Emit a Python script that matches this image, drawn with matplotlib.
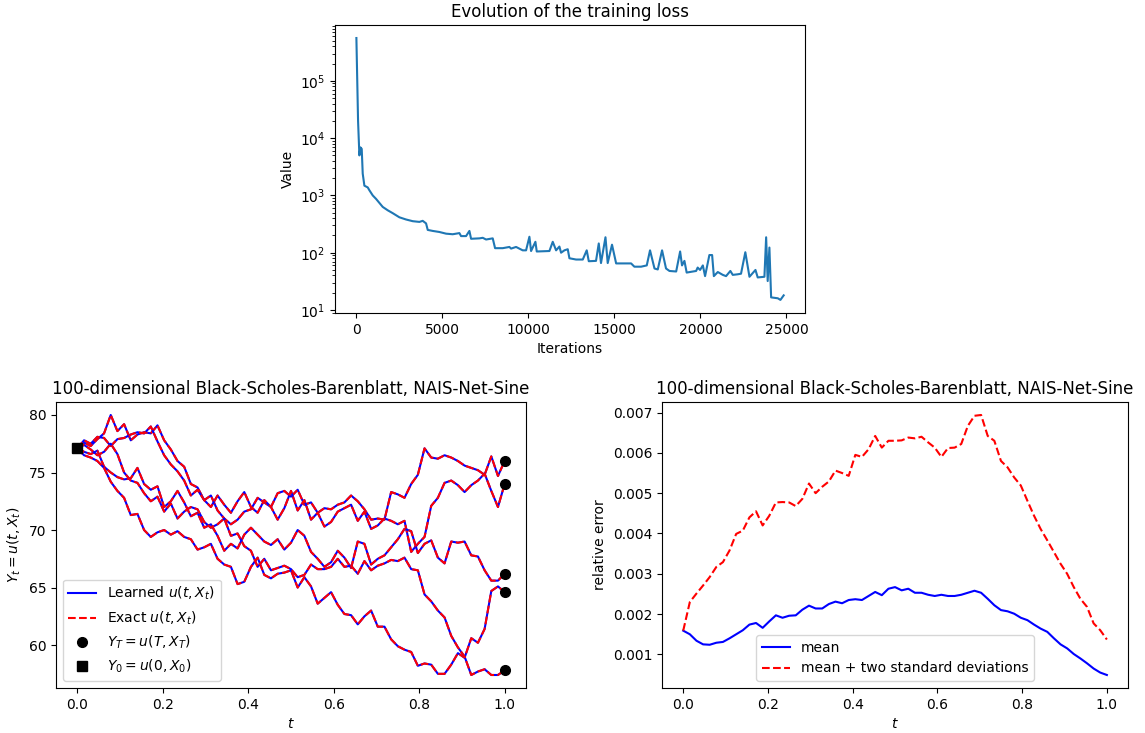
import numpy as np
import matplotlib
matplotlib.use("Agg")
import matplotlib.pyplot as plt

# ---- training loss (iteration, value) ----
loss_iter = [0, 97, 174, 232, 310, 368, 465, 659, 756, 950, 1143, 1337, 1531, 1822,
             2112, 2500, 2887, 3275, 3663, 3856, 4050, 4147, 4438, 4825, 5213, 5600,
             5988, 6085, 6376, 6570, 6667, 7151, 7345, 7539, 7926, 8062, 8508, 8895,
             8992, 9283, 9670, 9864, 10058, 10155, 10407, 10485, 11221, 11415, 11609,
             11802, 11899, 12093, 12287, 12384, 12770, 13160, 13390, 13510, 13930,
             14090, 14220, 14480, 14610, 14860, 15100, 15970, 16160, 16550, 16880,
             17070, 17330, 17520, 17770, 18000, 18200, 18590, 18820, 18930, 19070,
             19200, 19750, 19840, 19980, 20140, 20270, 20520, 20680, 20780, 21010,
             21300, 21490, 21740, 21880, 22170, 22360, 22610, 22850, 23200, 23330,
             23720, 23820, 23910, 24010, 24110, 24500, 24650, 24840]
loss_val = [5.6e5, 2.0e4, 5000, 6900, 6500, 2400, 1480, 1380, 1230, 1000, 870, 740, 630, 550,
            490, 415, 380, 355, 345, 360, 325, 250, 240, 230, 215, 210,
            220, 195, 195, 240, 175, 178, 182, 170, 178, 120, 120, 126,
            118, 126, 110, 110, 190, 107, 155, 105, 107, 155, 110,
            128, 100, 110, 115, 80, 76, 76, 110, 71, 72,
            145, 66, 186, 66, 138, 65, 65, 57, 57, 60,
            110, 53, 51, 110, 53, 48, 47, 105, 60, 72,
            45, 48, 55, 50, 60, 39, 91, 91, 39, 46,
            41, 39, 48, 41, 42, 43, 102, 38, 50, 37,
            38, 186, 32, 123, 16.6, 16, 15, 18]

# ---- BSB sample paths (5 paths, 65 time points) ----
path_a = [77.1, 77.6, 77.3, 77.9, 78.4, 80.0, 78.6, 79.2, 77.8, 78.3,
          78.5, 78.4, 79.1, 77.8, 77.0, 76.0, 75.5, 74.0, 73.7, 72.6,
          73.0, 71.7, 71.0, 70.5, 70.9, 71.6, 71.8, 72.8, 72.4, 72.0,
          73.2, 73.4, 72.9, 73.5, 72.2, 72.4, 71.5, 71.9, 71.8, 72.2,
          72.4, 73.0, 72.5, 71.8, 70.9, 71.0, 70.9, 73.3, 73.1, 72.8,
          74.0, 74.8, 77.1, 76.3, 76.2, 76.5, 76.3, 76.0, 75.6, 75.4,
          75.2, 74.8, 76.4, 74.7, 76.0]
path_b = [77.1, 77.8, 77.5, 78.1, 78.0, 77.3, 77.9, 78.0, 78.3, 78.5,
          78.4, 79.0, 77.7, 76.5, 75.7, 75.1, 74.3, 73.0, 73.5, 72.6,
          72.0, 73.0, 72.2, 71.5, 72.5, 73.3, 72.0, 71.5, 72.6, 72.0,
          70.9, 71.9, 73.4, 71.7, 72.6, 70.9, 71.5, 70.3, 70.7, 71.6,
          71.9, 72.2, 70.8, 71.6, 70.1, 70.4, 71.0, 70.8, 70.5, 70.8,
          68.1, 68.8, 69.4, 72.1, 72.8, 74.1, 74.3, 73.9, 73.3, 73.9,
          74.3, 74.9, 73.4, 72.0, 74.0]
path_c = [77.1, 76.8, 76.6, 76.9, 75.5, 75.0, 74.6, 74.4, 74.5, 75.4,
          74.0, 73.5, 73.8, 72.0, 72.5, 73.4, 72.4, 71.2, 71.5, 70.2,
          70.5, 69.5, 68.2, 68.8, 68.4, 69.6, 70.2, 69.6, 69.0, 68.7,
          69.2, 68.3, 68.9, 70.0, 69.5, 68.1, 67.5, 66.8, 67.2, 68.2,
          67.6, 66.7, 69.0, 68.8, 67.0, 67.5, 67.8, 68.5, 69.2, 70.1,
          69.9, 68.0, 68.8, 69.1, 67.6, 67.1, 69.0, 68.9, 69.0, 67.8,
          67.7, 66.5, 65.6, 65.6, 66.2]
path_d = [77.1, 76.5, 76.3, 76.0, 75.4, 74.2, 73.4, 72.8, 71.3, 71.4,
          70.0, 69.4, 69.8, 70.0, 69.6, 69.9, 69.4, 69.2, 68.3, 68.5,
          68.8, 67.5, 67.0, 66.8, 65.3, 65.5, 66.8, 67.6, 66.1, 65.8,
          66.2, 66.3, 66.5, 65.0, 65.9, 65.1, 63.6, 64.1, 64.6, 63.5,
          62.7, 62.6, 61.8, 62.5, 63.0, 61.6, 61.6, 60.5, 59.9, 59.6,
          59.4, 58.2, 58.4, 58.3, 57.5, 57.5, 58.3, 59.3, 58.9, 60.6,
          60.2, 61.4, 64.7, 65.1, 64.6]
path_e = [77.1, 77.4, 77.0, 76.5, 76.8, 77.5, 76.6, 75.0, 74.3, 74.1,
          73.2, 72.5, 72.9, 71.6, 72.3, 71.0, 71.6, 72.0, 71.8, 70.7,
          70.2, 70.5, 71.0, 69.5, 69.7, 68.6, 68.2, 66.8, 67.5, 66.5,
          66.7, 66.9, 66.6, 65.9, 66.1, 67.0, 66.6, 66.6, 66.8, 67.5,
          66.8, 66.9, 66.2, 67.3, 66.5, 66.9, 67.1, 67.4, 67.3, 67.6,
          66.6, 66.5, 64.4, 63.8, 63.0, 62.4, 60.8, 59.8, 59.0, 57.4,
          57.7, 57.9, 57.4, 57.4, 57.8]

# ---- relative error statistics ----
err_mean = [0.00159, 0.00150, 0.00134, 0.00125, 0.00124, 0.00129, 0.00131, 0.00140,
            0.00150, 0.00160, 0.00174, 0.00178, 0.00166, 0.00182, 0.00197, 0.00191,
            0.00196, 0.00197, 0.00211, 0.00221, 0.00214, 0.00214, 0.00225, 0.00231,
            0.00227, 0.00235, 0.00237, 0.00235, 0.00245, 0.00255, 0.00247, 0.00263,
            0.00267, 0.00259, 0.00263, 0.00253, 0.00253, 0.00248, 0.00245, 0.00248,
            0.00245, 0.00245, 0.00248, 0.00253, 0.00258, 0.00253, 0.00238, 0.00222,
            0.00210, 0.00207, 0.00201, 0.00191, 0.00185, 0.00174, 0.00164, 0.00156,
            0.00140, 0.00125, 0.00115, 0.00101, 0.00090, 0.00078, 0.00065, 0.00055,
            0.00049]
err_upper = [0.00159, 0.00230, 0.00251, 0.00271, 0.00292, 0.00317, 0.00329, 0.00358,
             0.00399, 0.00407, 0.00440, 0.00455, 0.00420, 0.00444, 0.00477, 0.00478,
             0.00477, 0.00468, 0.00486, 0.00524, 0.00500, 0.00516, 0.00529, 0.00556,
             0.00550, 0.00543, 0.00595, 0.00590, 0.00609, 0.00642, 0.00613, 0.00630,
             0.00630, 0.00631, 0.00638, 0.00636, 0.00640, 0.00626, 0.00613, 0.00590,
             0.00612, 0.00613, 0.00622, 0.00667, 0.00692, 0.00694, 0.00642, 0.00630,
             0.00580, 0.00564, 0.00539, 0.00519, 0.00481, 0.00444, 0.00411, 0.00383,
             0.00354, 0.00325, 0.00300, 0.00267, 0.00238, 0.00218, 0.00177, 0.00160,
             0.00137]

paths = [path_a, path_b, path_c, path_d, path_e]
N = len(path_a) - 1
t = np.linspace(0, 1, N + 1)

fig = plt.figure(figsize=(11.45, 7.33), dpi=100)

# training loss
ax0 = fig.add_axes([0.2926, 0.573, 0.4105, 0.393])
ax0.plot(loss_iter, loss_val)
ax0.set_yscale('log')
ax0.set_xlabel('Iterations')
ax0.set_ylabel('Value')
ax0.set_title('Evolution of the training loss')

# sample paths
ax1 = fig.add_axes([0.0489, 0.0614, 0.4105, 0.3902])
for k, p in enumerate(paths):
    ax1.plot(t, p, 'b', label='Learned $u(t,X_t)$' if k == 0 else None)
    ax1.plot(t, p, 'r--', label='Exact $u(t,X_t)$' if k == 0 else None)
ends = [p[-1] for p in paths]
ax1.plot(np.ones(len(paths)), ends, 'ko', label='$Y_T = u(T,X_T)$', ms=7)
ax1.plot([0], [path_a[0]], 'ks', label='$Y_0 = u(0,X_0)$', ms=7)
ax1.set_xlabel('$t$')
ax1.set_ylabel('$Y_t = u(t,X_t)$')
ax1.set_title('100-dimensional Black-Scholes-Barenblatt, NAIS-Net-Sine')
ax1.legend(loc='lower left')

# relative error
ax2 = fig.add_axes([0.5782, 0.0614, 0.407, 0.3902])
ax2.plot(t, err_mean, 'b', label='mean')
ax2.plot(t, err_upper, 'r--', label='mean + two standard deviations')
ax2.set_xlabel('$t$')
ax2.set_ylabel('relative error')
ax2.set_title('100-dimensional Black-Scholes-Barenblatt, NAIS-Net-Sine')
ax2.legend(loc='lower center')

fig.savefig('out.png', dpi=100)
